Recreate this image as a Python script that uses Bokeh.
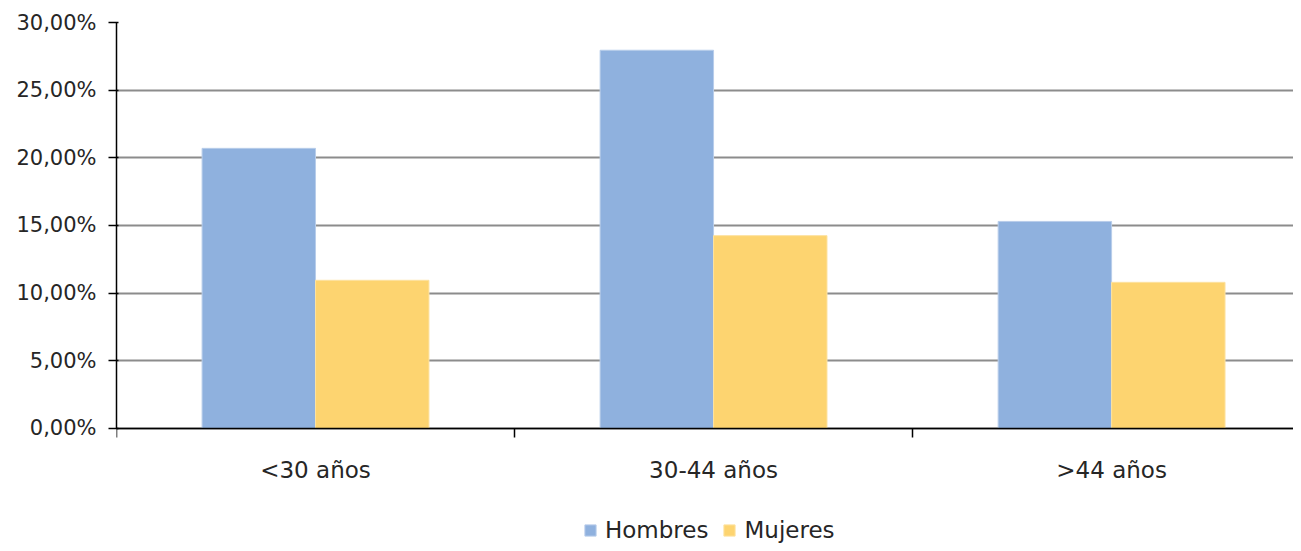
from bokeh.plotting import figure
from bokeh.models import ColumnDataSource, FixedTicker, Legend, LegendItem
from bokeh.embed import file_html
from bokeh.resources import INLINE

categories = ["<30 años", "30-44 años", ">44 años"]
hombres = [20.7, 27.95, 15.3]
mujeres = [10.95, 14.25, 10.8]
y_ticks = [0, 5, 10, 15, 20, 25, 30]
y_tick_labels = ["0,00%", "5,00%", "10,00%", "15,00%", "20,00%", "25,00%", "30,00%"]
series_names = ["Hombres", "Mujeres"]
colors = ["#8FB1DE", "#FDD470"]

FONT = "DejaVu Sans"
TXT = "#262626"
bar_w = 0.285

centers = [i + 0.5 for i in range(len(categories))]
src = ColumnDataSource(dict(
    xh=[c - bar_w / 2 for c in centers],
    xm=[c + bar_w / 2 for c in centers],
    h=hombres, m=mujeres,
))

# frame spans from the top gridline down to the figure bottom; the
# x axis is pinned at y=0 so that legend can sit inside the frame.
p = figure(width=1293, height=543, x_range=(0, 2.957), y_range=(-8.5, 30),
           output_backend="svg", toolbar_location=None,
           min_border_left=116, min_border_right=0, min_border_top=22,
           min_border_bottom=0)
p.outline_line_color = None
p.background_fill_color = "white"
p.border_fill_color = "white"

r1 = p.vbar(x="xh", top="h", bottom=0, width=bar_w, source=src, fill_color=colors[0],
            line_color="#B8CDEA", line_width=1)
r2 = p.vbar(x="xm", top="m", bottom=0, width=bar_w, source=src, fill_color=colors[1],
            line_color="#FDE2A0", line_width=1)

# y axis
p.yaxis.ticker = FixedTicker(ticks=y_ticks)
p.yaxis.bounds = (0, 30)
p.yaxis.major_label_overrides = {t: l for t, l in zip(y_ticks, y_tick_labels)}
p.yaxis.major_label_text_font = FONT
p.yaxis.major_label_text_font_size = "21px"
p.yaxis.major_label_text_color = TXT
p.yaxis.major_label_standoff = 12
p.yaxis.major_tick_out = 8
p.yaxis.major_tick_in = 2
p.yaxis.minor_tick_line_color = None
p.yaxis.axis_line_color = "#000000"
p.yaxis.axis_line_width = 1.5
p.yaxis.major_tick_line_color = "#000000"
p.yaxis.major_tick_line_width = 1.5

# x axis
p.xaxis.fixed_location = 0
p.xaxis.ticker = FixedTicker(ticks=centers, minor_ticks=[0, 1, 2, 3])
p.xaxis.major_label_overrides = {c: l for c, l in zip(centers, categories)}
p.xaxis.major_label_text_font = FONT
p.xaxis.major_label_text_font_size = "23px"
p.xaxis.major_label_text_color = TXT
p.xaxis.major_tick_out = 0
p.xaxis.major_tick_in = 0
p.xaxis.major_label_standoff = 20
p.xaxis.minor_tick_out = 9
p.xaxis.minor_tick_in = 0
p.xaxis.minor_tick_line_color = "#000000"
p.xaxis.minor_tick_line_width = 1.5
p.xaxis.axis_line_color = "#000000"
p.xaxis.axis_line_width = 1.5

p.xgrid.grid_line_color = None
p.ygrid.ticker = FixedTicker(ticks=y_ticks)
p.ygrid.grid_line_color = "#8C8C8C"
p.ygrid.grid_line_width = 2

legend = Legend(items=[LegendItem(label=series_names[0], renderers=[r1]),
                       LegendItem(label=series_names[1], renderers=[r2])],
                orientation="horizontal", location=(467, 0))
legend.label_text_font = FONT
legend.label_text_font_size = "23px"
legend.label_text_color = TXT
legend.glyph_width = 14
legend.glyph_height = 14
legend.label_standoff = 8
legend.spacing = 14
legend.padding = 0
legend.margin = 0
legend.border_line_color = None
legend.background_fill_alpha = 0
p.add_layout(legend, "center")

open("out.html", "w").write(file_html(p, INLINE))
